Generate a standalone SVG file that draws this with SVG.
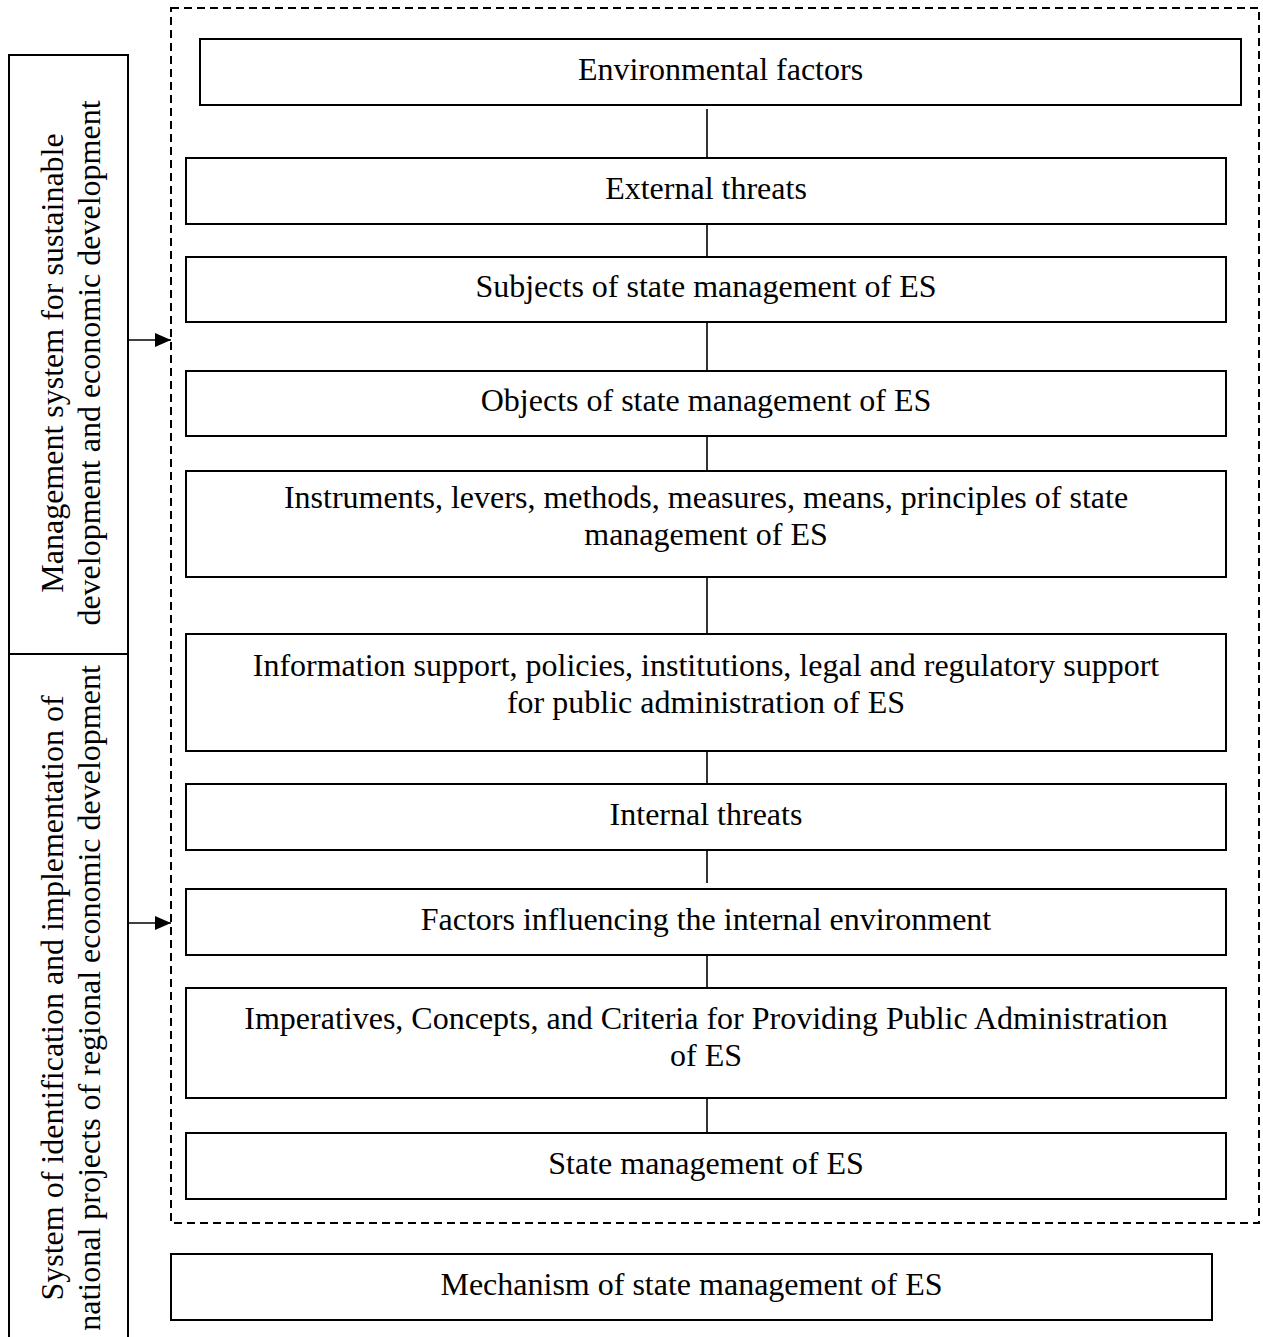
<svg xmlns="http://www.w3.org/2000/svg" width="1263" height="1337" viewBox="0 0 1263 1337">
<style>
.box{fill:#fff;stroke:#000;stroke-width:2}
.t{font-family:"Liberation Serif","Times New Roman",serif;font-size:32px;fill:#000;text-anchor:middle}
.c{stroke:#000;stroke-width:1.6;fill:none}
</style>
<defs>
<marker id="ah" markerWidth="16" markerHeight="14" refX="16" refY="7" orient="auto" markerUnits="userSpaceOnUse">
<path d="M0,0 L16,7 L0,14 Z" fill="#000"/>
</marker>
</defs>
<rect x="0" y="0" width="1263" height="1337" fill="#fff"/>
<g id="frame">
<rect x="171" y="8" width="1088" height="1215" fill="none" stroke="#000" stroke-width="2" stroke-dasharray="8,5"/>
</g>
<g id="left1">
<rect class="box" x="9" y="55" width="119" height="599"/>
<text class="t" transform="translate(63,363) rotate(-90)">Management system for sustainable</text>
<text class="t" transform="translate(100,363) rotate(-90)">development and economic development</text>
</g>
<g id="left2">
<rect class="box" x="9" y="654" width="119" height="690"/>
<text class="t" transform="translate(63,998) rotate(-90)">System of identification and implementation of</text>
<text class="t" transform="translate(100,998) rotate(-90)">national projects of regional economic development</text>
</g>
<g id="n1"><rect class="box" x="200" y="39" width="1041" height="66"/><text class="t" x="720.5" y="80">Environmental factors</text></g>
<g id="n2"><rect class="box" x="186" y="158" width="1040" height="66"/><text class="t" x="706" y="199">External threats</text></g>
<g id="n3"><rect class="box" x="186" y="257" width="1040" height="65"/><text class="t" x="706" y="297">Subjects of state management of ES</text></g>
<g id="n4"><rect class="box" x="186" y="371" width="1040" height="65"/><text class="t" x="706" y="411">Objects of state management of ES</text></g>
<g id="n5"><rect class="box" x="186" y="471" width="1040" height="106"/><text class="t" x="706" y="508">Instruments, levers, methods, measures, means, principles of state</text><text class="t" x="706" y="545">management of ES</text></g>
<g id="n6"><rect class="box" x="186" y="634" width="1040" height="117"/><text class="t" x="706" y="676">Information support, policies, institutions, legal and regulatory support</text><text class="t" x="706" y="713">for public administration of ES</text></g>
<g id="n7"><rect class="box" x="186" y="784" width="1040" height="66"/><text class="t" x="706" y="825">Internal threats</text></g>
<g id="n8"><rect class="box" x="186" y="889" width="1040" height="66"/><text class="t" x="706" y="930">Factors influencing the internal environment</text></g>
<g id="n9"><rect class="box" x="186" y="988" width="1040" height="110"/><text class="t" x="706" y="1029">Imperatives, Concepts, and Criteria for Providing Public Administration</text><text class="t" x="706" y="1066">of ES</text></g>
<g id="n10"><rect class="box" x="186" y="1133" width="1040" height="66"/><text class="t" x="706" y="1174">State management of ES</text></g>
<g id="n11"><rect class="box" x="171" y="1254" width="1041" height="66"/><text class="t" x="691.5" y="1295">Mechanism of state management of ES</text></g>
<g id="connectors">
<line class="c" x1="707" y1="109" x2="707" y2="158"/>
<line class="c" x1="707" y1="224" x2="707" y2="257"/>
<line class="c" x1="707" y1="322" x2="707" y2="371"/>
<line class="c" x1="707" y1="436" x2="707" y2="471"/>
<line class="c" x1="707" y1="577" x2="707" y2="634"/>
<line class="c" x1="707" y1="751" x2="707" y2="784"/>
<line class="c" x1="707" y1="850" x2="707" y2="883"/>
<line class="c" x1="707" y1="955" x2="707" y2="988"/>
<line class="c" x1="707" y1="1098" x2="707" y2="1133"/>
<line class="c" x1="128" y1="340" x2="171" y2="340" marker-end="url(#ah)"/>
<line class="c" x1="128" y1="923" x2="171" y2="923" marker-end="url(#ah)"/>
</g>
</svg>
